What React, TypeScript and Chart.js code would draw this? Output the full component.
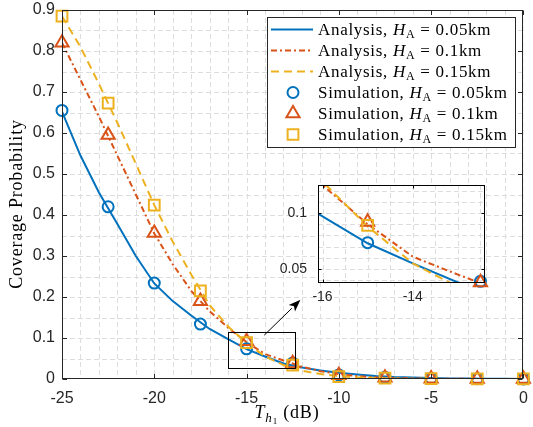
import React, { useEffect, useRef } from "react";
import { Chart, registerables } from "chart.js";

Chart.register(...registerables);

// ---------------- data ----------------
const xAnalysis = [-25, -24, -23, -22, -21, -20, -19, -18, -17, -16, -15, -14, -13, -12, -11, -10, -9, -8, -7, -6, -5, -4, -3, -2, -1, 0];
const analysisH005 = [0.652, 0.545, 0.455, 0.378, 0.3, 0.233, 0.19, 0.155, 0.122, 0.097, 0.073, 0.055, 0.038, 0.028, 0.021, 0.015, 0.011, 0.0075, 0.005, 0.0035, 0.0023, 0.0015, 0.001, 0.0007, 0.0005, 0.0003];
const analysisH01 = [0.82, 0.73, 0.64, 0.545, 0.45, 0.355, 0.28, 0.215, 0.165, 0.125, 0.09, 0.061, 0.045, 0.03, 0.019, 0.012, 0.007, 0.004, 0.0025, 0.0015, 0.001, 0.0006, 0.0004, 0.0002, 0.0001, 0.0001];
const analysisH015 = [0.885, 0.81, 0.72, 0.625, 0.525, 0.424, 0.335, 0.255, 0.18, 0.128, 0.088, 0.055, 0.034, 0.02, 0.012, 0.007, 0.004, 0.002, 0.001, 0.0006, 0.0003, 0.0002, 0.0001, 0.0001, 0, 0];

const xSim = [-25, -22.5, -20, -17.5, -15, -12.5, -10, -7.5, -5, -2.5, 0];
const simH005 = [0.655, 0.42, 0.234, 0.134, 0.0735, 0.039, 0.01, 0.004, 0.0015, 0.0006, 0.0002];
const simH01 = [0.82, 0.595, 0.356, 0.19, 0.092, 0.038, 0.009, 0.003, 0.001, 0.0004, 0.0001];
const simH015 = [0.885, 0.673, 0.424, 0.215, 0.089, 0.034, 0.006, 0.002, 0.0008, 0.0003, 0.0001];

const xTicks = [-25, -20, -15, -10, -5, 0];
const yTicks = [0, 0.1, 0.2, 0.3, 0.4, 0.5, 0.6, 0.7, 0.8, 0.9];
const insetXTicks = [-16, -14];
const insetYTicks = [0.05, 0.1];

const legendKinds = ["Analysis", "Analysis", "Analysis", "Simulation", "Simulation", "Simulation"];
const legendHeights = ["0.05km", "0.1km", "0.15km", "0.05km", "0.1km", "0.15km"];

// ---------------- styles ----------------
const BLUE = "#0072BD";
const ORANGE = "#D95319";
const YELLOW = "#EDB120";
const AXIS = "#262626";
const GRID = "#dddddd";
const SANS = '"Liberation Sans", Arial, Helvetica, sans-serif';
const SERIF = '"Liberation Serif", "Times New Roman", serif';

const MAIN_X = [-25, 0];
const MAIN_Y = [0, 0.9];
const INSET_X = [-16.1, -12.4];
const INSET_Y = [0.0375, 0.125];
const ZOOM_BOX = { x0: -16, x1: -12.37, y0: 0.027, y1: 0.115 };
const ARROW = { x0: -14.04, y0: 0.107, x1: -12.08, y1: 0.193 };

const INSET_BOX = { left: 270, top: 170, width: 230, height: 140, areaLeft: 48, areaTop: 15, areaRight: 15, areaBottom: 27 };

const lineStyles = [
  { color: BLUE, dash: [] as number[] },
  { color: ORANGE, dash: [6, 3, 2, 3] },
  { color: YELLOW, dash: [8, 5] },
];
const markerStyles = [
  { color: BLUE, style: "circle", r: 5.5 },
  { color: ORANGE, style: "triangle", r: 7.6 },
  { color: YELLOW, style: "rect", r: 7.6 },
];

const zip = (xs: number[], ys: number[]) => xs.map((x, i) => ({ x, y: ys[i] }));

function buildDatasets(inset: boolean) {
  const lines = [analysisH005, analysisH01, analysisH015].map((ys, i) => ({
    data: zip(xAnalysis, ys),
    showLine: true,
    borderColor: lineStyles[i].color,
    borderDash: lineStyles[i].dash,
    borderWidth: 2,
    pointRadius: 0,
    pointHoverRadius: 0,
    fill: false,
    tension: 0,
    order: 6 - i,
    clip: inset ? 0 : undefined,
  }));
  const sims = [simH005, simH01, simH015].map((ys, i) => {
    let pts = zip(xSim, ys);
    if (inset) {
      pts = pts.filter(
        (p) => p.x >= INSET_X[0] && p.x <= INSET_X[1] && p.y >= INSET_Y[0] && p.y <= INSET_Y[1]
      );
    }
    return {
      data: pts,
      showLine: false,
      pointStyle: markerStyles[i].style,
      pointRadius: markerStyles[i].r,
      pointHoverRadius: markerStyles[i].r,
      pointBorderWidth: 2,
      pointBorderColor: markerStyles[i].color,
      pointBackgroundColor: "rgba(0,0,0,0)",
      borderColor: markerStyles[i].color,
      clip: false,
      order: 3 - i,
    };
  });
  return [...lines, ...sims];
}

function drawGrid(chart: any, xStep: number, yStep: number) {
  const { ctx, chartArea: a, scales } = chart;
  const sx = scales.x;
  const sy = scales.y;
  ctx.save();
  ctx.beginPath();
  ctx.rect(a.left, a.top, a.right - a.left, a.bottom - a.top);
  ctx.clip();
  ctx.strokeStyle = GRID;
  ctx.lineWidth = 1;
  ctx.setLineDash([5, 3]);
  const kx0 = Math.ceil(sx.min / xStep - 1e-6);
  const kx1 = Math.floor(sx.max / xStep + 1e-6);
  for (let k = kx0; k <= kx1; k++) {
    const px = Math.round(sx.getPixelForValue(k * xStep)) + 0.5;
    ctx.beginPath();
    ctx.moveTo(px, a.top);
    ctx.lineTo(px, a.bottom);
    ctx.stroke();
  }
  const ky0 = Math.ceil(sy.min / yStep - 1e-6);
  const ky1 = Math.floor(sy.max / yStep + 1e-6);
  for (let k = ky0; k <= ky1; k++) {
    const py = Math.round(sy.getPixelForValue(k * yStep)) + 0.5;
    ctx.beginPath();
    ctx.moveTo(a.left, py);
    ctx.lineTo(a.right, py);
    ctx.stroke();
  }
  ctx.restore();
}

function drawFrame(chart: any, xt: number[], yt: number[], len: number, color: string) {
  const { ctx, chartArea: a, scales } = chart;
  const sx = scales.x;
  const sy = scales.y;
  ctx.save();
  ctx.strokeStyle = color;
  ctx.lineWidth = 1;
  ctx.setLineDash([]);
  const L = Math.round(a.left) + 0.5;
  const R = Math.round(a.right) - 0.5;
  const T = Math.round(a.top) + 0.5;
  const B = Math.round(a.bottom) - 0.5;
  ctx.strokeRect(L, T, R - L, B - T);
  ctx.beginPath();
  xt.forEach((v) => {
    const px = Math.round(sx.getPixelForValue(v)) + 0.5;
    ctx.moveTo(px, B);
    ctx.lineTo(px, B - len);
    ctx.moveTo(px, T);
    ctx.lineTo(px, T + len);
  });
  yt.forEach((v) => {
    const py = Math.round(sy.getPixelForValue(v)) + 0.5;
    ctx.moveTo(L, py);
    ctx.lineTo(L + len, py);
    ctx.moveTo(R, py);
    ctx.lineTo(R - len, py);
  });
  ctx.stroke();
  ctx.restore();
}

type Part = { t: string; f: string; dy?: number };
function drawRich(ctx: CanvasRenderingContext2D, x: number, y: number, parts: Part[], center: boolean) {
  const widths = parts.map((p) => {
    ctx.font = p.f;
    return ctx.measureText(p.t).width;
  });
  const total = widths.reduce((s, w) => s + w, 0);
  let cx = center ? x - total / 2 : x;
  ctx.textAlign = "left";
  ctx.textBaseline = "alphabetic";
  parts.forEach((p, i) => {
    ctx.font = p.f;
    ctx.fillText(p.t, cx, y + (p.dy || 0));
    cx += widths[i];
  });
}

function drawMarker(ctx: CanvasRenderingContext2D, style: string, x: number, y: number, r: number) {
  ctx.beginPath();
  if (style === "circle") {
    ctx.arc(x, y, r, 0, Math.PI * 2);
  } else if (style === "triangle") {
    for (let k = 0; k < 3; k++) {
      const ang = (k * 2 * Math.PI) / 3;
      const px = x + Math.sin(ang) * r;
      const py = y - Math.cos(ang) * r;
      if (k === 0) ctx.moveTo(px, py);
      else ctx.lineTo(px, py);
    }
    ctx.closePath();
  } else {
    const s = Math.SQRT1_2 * r;
    ctx.rect(x - s, y - s, 2 * s, 2 * s);
  }
  ctx.stroke();
}

function drawLegend(ctx: CanvasRenderingContext2D) {
  const box = { left: 267, top: 17, right: 516, bottom: 148 };
  ctx.save();
  ctx.fillStyle = "#ffffff";
  ctx.fillRect(box.left, box.top, box.right - box.left, box.bottom - box.top);
  ctx.strokeStyle = AXIS;
  ctx.lineWidth = 1;
  ctx.strokeRect(box.left + 0.5, box.top + 0.5, box.right - box.left - 1, box.bottom - box.top - 1);
  for (let i = 0; i < 6; i++) {
    const base = 35 + i * 21;
    const mid = base - 5.5;
    if (i < 3) {
      const st = lineStyles[i];
      ctx.strokeStyle = st.color;
      ctx.lineWidth = 2;
      ctx.setLineDash(st.dash);
      ctx.beginPath();
      ctx.moveTo(271, mid);
      ctx.lineTo(313, mid);
      ctx.stroke();
      ctx.setLineDash([]);
    } else {
      const m = markerStyles[i - 3];
      ctx.strokeStyle = m.color;
      ctx.lineWidth = 2;
      drawMarker(ctx, m.style, 293, mid, m.r);
    }
    ctx.fillStyle = "#000000";
    (ctx as any).letterSpacing = "0.7px";
    drawRich(
      ctx,
      318,
      base,
      [
        { t: legendKinds[i] + ", ", f: `17px ${SERIF}` },
        { t: "H", f: `italic 17px ${SERIF}` },
        { t: "A", f: `12px ${SERIF}`, dy: 3 },
        { t: " = " + legendHeights[i], f: `17px ${SERIF}` },
      ],
      false
    );
    (ctx as any).letterSpacing = "0px";
  }
  ctx.restore();
}

function drawTitles(ctx: CanvasRenderingContext2D) {
  ctx.save();
  ctx.fillStyle = "#000000";
  (ctx as any).letterSpacing = "0.8px";
  drawRich(
    ctx,
    287,
    418,
    [
      { t: "T", f: `italic 18px ${SERIF}` },
      { t: "h", f: `italic 13px ${SERIF}`, dy: 4 },
      { t: "1", f: `9px ${SERIF}`, dy: 6 },
      { t: " (dB)", f: `18px ${SERIF}` },
    ],
    true
  );
  ctx.translate(22, 204);
  ctx.rotate(-Math.PI / 2);
  ctx.font = `18px ${SERIF}`;
  ctx.textAlign = "center";
  ctx.textBaseline = "alphabetic";
  ctx.fillText("Coverage Probability", 0, 0);
  ctx.restore();
}

function drawZoomAndArrow(chart: any) {
  const { ctx, scales } = chart;
  const sx = scales.x;
  const sy = scales.y;
  ctx.save();
  ctx.strokeStyle = "#000000";
  ctx.lineWidth = 1;
  ctx.setLineDash([]);
  const x0 = Math.round(sx.getPixelForValue(ZOOM_BOX.x0)) + 0.5;
  const x1 = Math.round(sx.getPixelForValue(ZOOM_BOX.x1)) + 0.5;
  const y0 = Math.round(sy.getPixelForValue(ZOOM_BOX.y0)) + 0.5;
  const y1 = Math.round(sy.getPixelForValue(ZOOM_BOX.y1)) + 0.5;
  ctx.strokeRect(x0, y1, x1 - x0, y0 - y1);
  const ax0 = sx.getPixelForValue(ARROW.x0);
  const ay0 = sy.getPixelForValue(ARROW.y0);
  const ax1 = sx.getPixelForValue(ARROW.x1);
  const ay1 = sy.getPixelForValue(ARROW.y1);
  const ang = Math.atan2(ay1 - ay0, ax1 - ax0);
  const headLen = 12;
  const headW = 4.5;
  const bx = ax1 - Math.cos(ang) * headLen;
  const by = ay1 - Math.sin(ang) * headLen;
  ctx.beginPath();
  ctx.moveTo(ax0, ay0);
  ctx.lineTo(bx, by);
  ctx.stroke();
  ctx.fillStyle = "#000000";
  ctx.beginPath();
  ctx.moveTo(ax1, ay1);
  ctx.lineTo(bx - Math.sin(ang) * headW, by + Math.cos(ang) * headW);
  ctx.lineTo(ax1 - Math.cos(ang) * (headLen - 3), ay1 - Math.sin(ang) * (headLen - 3));
  ctx.lineTo(bx + Math.sin(ang) * headW, by - Math.cos(ang) * headW);
  ctx.closePath();
  ctx.fill();
  ctx.restore();
}

const fmt = (v: any) => {
  const n = Number(v);
  return String(parseFloat(n.toFixed(4)));
};

function scaleOpts(range: number[], ticks: number[], fontSize: number, padding: number, fit: (s: any) => void) {
  return {
    type: "linear",
    min: range[0],
    max: range[1],
    afterBuildTicks: (s: any) => {
      s.ticks = ticks.map((v) => ({ value: v }));
    },
    afterFit: (s: any) => {
      fit(s);
      s.paddingLeft = 0;
      s.paddingRight = 0;
      s.paddingTop = 0;
      s.paddingBottom = 0;
    },
    grid: { display: false, drawTicks: false },
    border: { display: false },
    ticks: {
      padding,
      autoSkip: false,
      maxRotation: 0,
      minRotation: 0,
      color: AXIS,
      font: { family: SANS, size: fontSize },
      callback: fmt,
    },
  };
}

export default function App() {
  const mainRef = useRef<HTMLCanvasElement>(null);
  const insetRef = useRef<HTMLCanvasElement>(null);

  useEffect(() => {
    const mainPlugin = {
      id: "mainDecor",
      beforeDatasetsDraw(chart: any) {
        drawGrid(chart, 1, 0.05);
      },
      afterDatasetsDraw(chart: any) {
        drawFrame(chart, xTicks, yTicks, 4.5, AXIS);
        drawZoomAndArrow(chart);
      },
      afterDraw(chart: any) {
        drawLegend(chart.ctx);
        drawTitles(chart.ctx);
      },
    };
    const main = new Chart(mainRef.current as HTMLCanvasElement, {
      type: "scatter",
      data: { datasets: buildDatasets(false) as any },
      options: {
        responsive: false,
        animation: false,
        events: [],
        layout: { padding: { left: 0, right: 4, top: 10, bottom: 0 } },
        plugins: { legend: { display: false }, tooltip: { enabled: false } },
        scales: {
          x: scaleOpts(MAIN_X, xTicks, 16, 10, (s) => (s.height = 48)) as any,
          y: scaleOpts(MAIN_Y, yTicks, 16, 7, (s) => (s.width = 62)) as any,
        },
      },
      plugins: [mainPlugin],
    });

    const insetPlugin = {
      id: "insetDecor",
      beforeDraw(chart: any) {
        const { ctx, chartArea: a } = chart;
        ctx.save();
        ctx.fillStyle = "#ffffff";
        ctx.fillRect(a.left, a.top, a.right - a.left, a.bottom - a.top);
        ctx.restore();
      },
      beforeDatasetsDraw(chart: any) {
        drawGrid(chart, 0.5, 0.01);
      },
      afterDatasetsDraw(chart: any) {
        drawFrame(chart, insetXTicks, insetYTicks, 3, "#000000");
      },
    };
    const inset = new Chart(insetRef.current as HTMLCanvasElement, {
      type: "scatter",
      data: { datasets: buildDatasets(true) as any },
      options: {
        responsive: false,
        animation: false,
        events: [],
        layout: { padding: { left: 0, right: INSET_BOX.areaRight, top: INSET_BOX.areaTop, bottom: 0 } },
        plugins: { legend: { display: false }, tooltip: { enabled: false } },
        scales: {
          x: scaleOpts(INSET_X, insetXTicks, 14, 6, (s) => (s.height = INSET_BOX.areaBottom)) as any,
          y: scaleOpts(INSET_Y, insetYTicks, 14, 11, (s) => (s.width = INSET_BOX.areaLeft)) as any,
        },
      },
      plugins: [insetPlugin],
    });

    return () => {
      main.destroy();
      inset.destroy();
    };
  }, []);

  return (
    <div style={{ position: "absolute", left: 0, top: 0, width: 533, height: 427, background: "#ffffff", overflow: "hidden" }}>
      <canvas
        ref={mainRef}
        width={533}
        height={427}
        style={{ position: "absolute", left: 0, top: 0, width: 533, height: 427 }}
      />
      <canvas
        ref={insetRef}
        width={INSET_BOX.width}
        height={INSET_BOX.height}
        style={{ position: "absolute", left: INSET_BOX.left, top: INSET_BOX.top, width: INSET_BOX.width, height: INSET_BOX.height }}
      />
    </div>
  );
}
